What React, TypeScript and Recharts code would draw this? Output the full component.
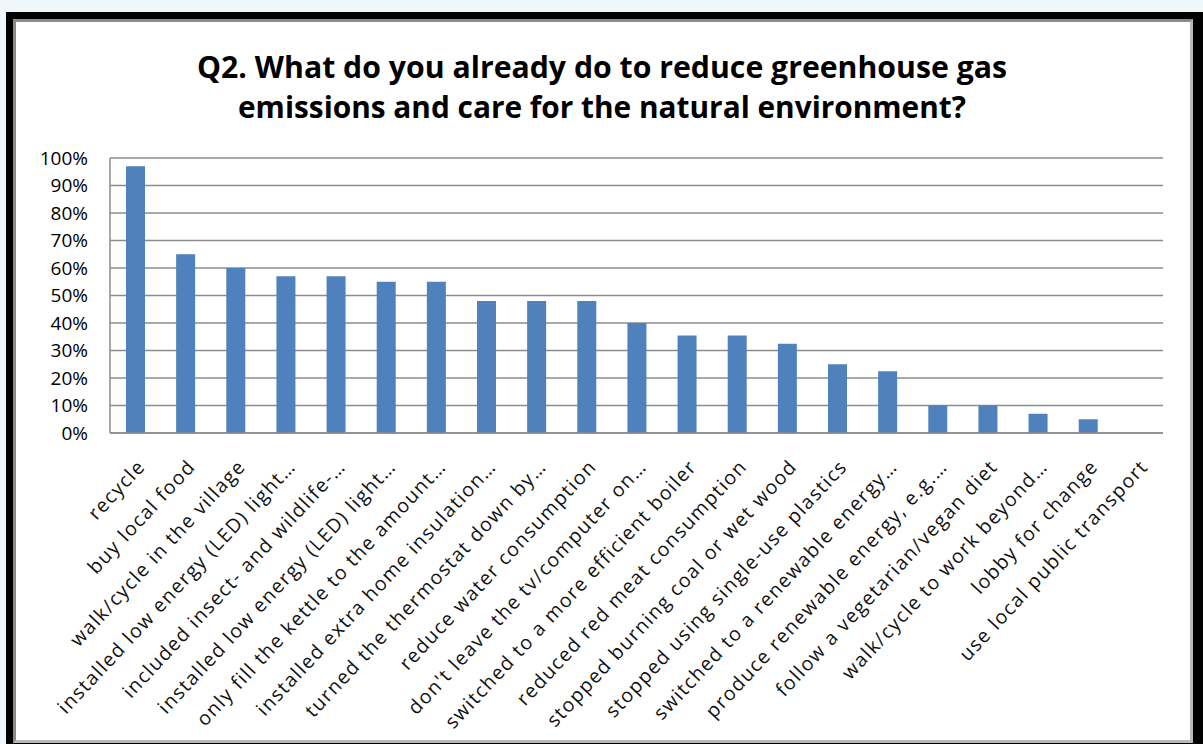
import { Bar, BarChart, CartesianGrid, XAxis, YAxis } from "recharts";

const CATEGORIES = [
  "recycle",
  "buy local food",
  "walk/cycle in the village",
  "installed low energy (LED) light…",
  "included insect- and wildlife-…",
  "installed low energy (LED) light…",
  "only fill the kettle to the amount…",
  "installed extra home insulation…",
  "turned the thermostat down by…",
  "reduce water consumption",
  "don't leave the tv/computer on…",
  "switched to a more efficient boiler",
  "reduced red meat consumption",
  "stopped burning coal or wet wood",
  "stopped using single-use plastics",
  "switched to a renewable energy…",
  "produce renewable energy, e.g.…",
  "follow a vegetarian/vegan diet",
  "walk/cycle to work beyond…",
  "lobby for change",
  "use local public transport",
];

const SHARES = [97, 65, 60, 57, 57, 55, 55, 48, 48, 48, 40, 35.5, 35.5, 32.5, 25, 22.5, 10, 10, 7, 5, 0];

const Y_TICKS = [0, 10, 20, 30, 40, 50, 60, 70, 80, 90, 100];

const TITLE_LINES = [
  "Q2. What do you already do to reduce greenhouse gas",
  "emissions and care for the natural environment?",
];

const FONT = "'Open Sans', 'DejaVu Sans', sans-serif";
const BAR_COLOR = "#4f81bd";
const GRID_COLOR = "#8c8c8c";
const AXIS_Y = 433;

const data = CATEGORIES.map((name, i) => ({ key: `${i}`, name, share: SHARES[i] }));

function CategoryTick({ x, payload }: any) {
  const label = CATEGORIES[Number(payload.value)];
  return (
    <g transform={`translate(${x + 1},${AXIS_Y + 25}) rotate(-47)`}>
      <text
        x={0}
        y={0}
        dy="0.72em"
        textAnchor="end"
        fontSize={19.5}
        letterSpacing={1.4}
        fontFamily={FONT}
        fill="#111"
      >
        {label}
      </text>
    </g>
  );
}

function PercentTick({ x, y, payload }: any) {
  return (
    <text x={x - 14} y={y} dy="0.36em" textAnchor="end" fontSize={19} fontFamily={FONT} fill="#000">
      {`${payload.value}%`}
    </text>
  );
}

export default function App() {
  return (
    <div
      style={{
        position: "fixed",
        left: 0,
        top: 0,
        width: 1203,
        height: 744,
        background: "#eff7fa",
        overflow: "hidden",
      }}
    >
      {/* black frame with a grey bevel, as in the slide */}
      <div style={{ position: "absolute", left: 6, top: 12, width: 1197, height: 740, background: "#000" }} />
      <div
        style={{
          position: "absolute",
          left: 13,
          top: 19,
          width: 1180,
          height: 724,
          boxSizing: "border-box",
          background: "#fff",
          borderStyle: "solid",
          borderWidth: 3,
          borderColor: "#8a8a8a #b8b8b8 #b8b8b8 #8a8a8a",
        }}
      />
      <svg width={1203} height={744} style={{ position: "absolute", left: 0, top: 0 }}>
        {TITLE_LINES.map((line, i) => (
          <text
            key={line}
            x={602}
            y={78 + i * 40}
            textAnchor="middle"
            fontSize={31}
            fontWeight={700}
            fontFamily={FONT}
            fill="#000"
            textLength={i === 0 ? 810 : 728}
            lengthAdjust="spacingAndGlyphs"
          >
            {line}
          </text>
        ))}
      </svg>
      <div style={{ position: "absolute", left: 0, top: 0 }}>
        <BarChart
          width={1203}
          height={744}
          data={data}
          margin={{ top: 158, right: 40, bottom: 11, left: 30 }}
          barSize={19}
        >
          <CartesianGrid vertical={false} stroke={GRID_COLOR} strokeWidth={1.5} />
          <XAxis
            dataKey="key"
            interval={0}
            height={300}
            tickLine={false}
            axisLine={{ stroke: GRID_COLOR, strokeWidth: 1.5 }}
            tick={<CategoryTick />}
          />
          <YAxis
            width={80}
            domain={[0, 100]}
            ticks={Y_TICKS}
            interval={0}
            tickLine={false}
            axisLine={{ stroke: GRID_COLOR, strokeWidth: 1.5 }}
            tick={<PercentTick />}
          />
          <Bar dataKey="share" fill={BAR_COLOR} isAnimationActive={false} />
        </BarChart>
      </div>
    </div>
  );
}
